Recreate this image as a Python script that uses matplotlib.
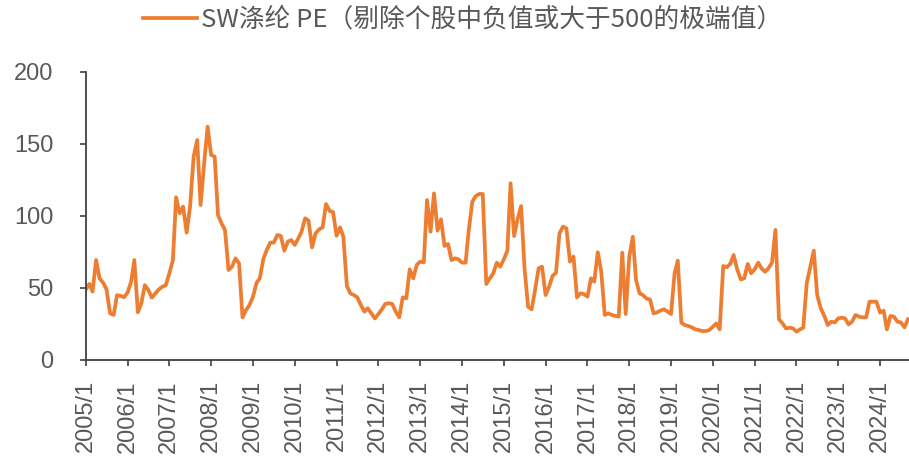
import pandas as pd
import matplotlib.pyplot as plt
import matplotlib.dates as mdates

# monthly SW polyester PE, 2005/1 - 2024/9
pe = [49, 52.8, 47.5, 69.4, 56.7, 53.7, 49, 32.4, 31.3, 45, 44.5, 43.6,
      46.8, 54.4, 69.4, 33.1, 39.3, 52, 48.6, 43.3, 46.3, 49, 50.9, 52,
      60.2, 69.4, 113, 101.9, 106.5, 88.4, 106.5, 141.2, 152.8, 107.6, 136.6, 162,
      142.4, 141.2, 100.7, 94.9, 90.3, 62.5, 64.8, 70.6, 67.1, 29.6, 34.7, 38.2,
      44, 53.7, 56.7, 70.1, 76.4, 81.5, 81.5, 86.8, 86.1, 75.9, 82.2, 83.3,
      79.9, 84.5, 89.1, 98.4, 96.8, 78.2, 87.9, 90.7, 92.1, 108.3, 103.5, 102.8,
      86.3, 92.1, 85.6, 51.4, 46.3, 45.1, 43.5, 38.2, 33.6, 35.9, 32.4, 28.9,
      31.9, 35.2, 38.9, 39.4, 38.9, 33.6, 29.6, 43.5, 42.8, 63, 56.7, 66,
      68.3, 67.8, 111.1, 89.1, 115.7, 89.8, 97.7, 79.2, 80.6, 69.4, 70.6, 69.9,
      67.6, 67.6, 90.3, 110, 113.9, 115.3, 115.3, 52.8, 56.7, 60.2, 67.6, 64.8,
      69.9, 75.9, 122.7, 86.1, 97.7, 106.9, 63.7, 37, 35.2, 48.6, 63.7, 64.8,
      45.1, 51, 58.3, 60.6, 87.9, 92.6, 91.4, 68.3, 71.8, 43.5, 46.3, 45.8,
      44, 56.7, 54.4, 74.8, 61.3, 31.3, 32.4, 31.3, 30.6, 30.1, 74.5, 31.9,
      71.8, 85.6, 55.6, 46.3, 45.1, 42.6, 42.1, 32.4, 33.1, 34.3, 35.2, 33.6,
      31.9, 60.2, 69, 25.9, 24.3, 23.6, 22.7, 21.3, 20.8, 20.1, 20.1, 20.8,
      23.1, 25.4, 21.3, 65.3, 64.4, 66.7, 72.9, 63, 56, 56.7, 66.7, 60.2,
      63, 67.6, 63.7, 61.3, 63.7, 67.6, 90.3, 28.3, 25.4, 22, 22.4, 22,
      19.7, 21.3, 22.4, 53.7, 64.4, 75.9, 45.1, 35.9, 30.6, 24.3, 26.6, 26.1,
      28.9, 29.4, 28.9, 24.7, 26.6, 31.3, 30.1, 29.6, 29.6, 40.5, 40.5, 40.5,
      32.9, 34.3, 21.3, 30.6, 30.1, 26.6, 26.1, 22.7, 28.3]
dates = pd.date_range('2005-01-01', periods=len(pe), freq='MS')
years = list(range(2005, 2025))
series_name = 'SW涤纶 PE（剔除个股中负值或大于500的极端值）'

grey = '#595959'
orange = '#ED7D31'

fig = plt.figure(figsize=(9.09, 4.57), dpi=100)
ax = fig.add_axes([85.8 / 909, 1 - 360 / 457, 1 - 85.8 / 909, (360 - 72) / 457])

ax.plot(dates, pe, color=orange, lw=2.7, label=series_name)

ax.set_ylim(0, 200)
ax.set_yticks([0, 50, 100, 150, 200])
ax.set_xlim(dates[0], dates[-1] + pd.Timedelta(days=9))
ax.set_xticks([pd.Timestamp(f'{y}-01-01') for y in years])
ax.set_xticklabels([f'{y}/1' for y in years], rotation=90)

for s in ['top', 'right']:
    ax.spines[s].set_visible(False)
for s in ['left', 'bottom']:
    ax.spines[s].set_color('#404040')
    ax.spines[s].set_linewidth(1.3)

ax.tick_params(axis='both', direction='out', length=4.5, width=1.2, color='#404040',
               labelcolor=grey, labelsize=17)
ax.tick_params(axis='y', pad=19)
ax.tick_params(axis='x', pad=10)
for lbl in ax.get_xticklabels() + ax.get_yticklabels():
    lbl.set_family('Liberation Sans')

fig.legend(loc='center', bbox_to_anchor=(463 / 909, 1 - 20 / 457), frameon=False,
           handlelength=2.1, handletextpad=0.15,
           prop={'family': ['Noto Sans CJK SC', 'DejaVu Sans'], 'size': 18.5},
           labelcolor=grey)

fig.savefig('out.png', dpi=100)
